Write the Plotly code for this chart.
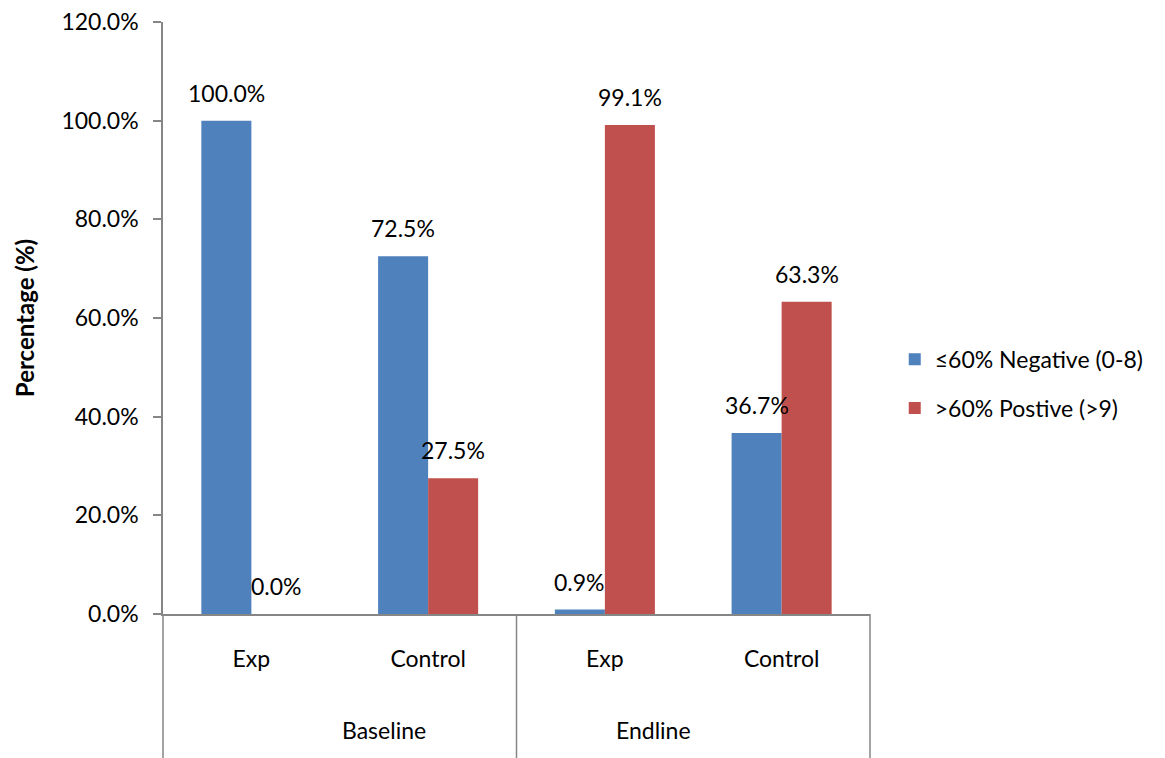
import plotly.graph_objects as go

# Survey results by phase and study arm
phases = ["Baseline", "Baseline", "Endline", "Endline"]
arms = ["Exp", "Control", "Exp", "Control"]
negative_pct = [100.0, 72.5, 0.9, 36.7]
positive_pct = [0.0, 27.5, 99.1, 63.3]

series_names = ["≤60% Negative (0-8)", ">60% Postive (>9)"]
series_colors = ["#4F81BD", "#C0504D"]
series_values = [negative_pct, positive_pct]

y_ticks = [0, 20, 40, 60, 80, 100, 120]

FONT = "Lato"
FSIZE = 23
AXIS_GRAY = "#868686"
BARGAP = 0.434

n = len(arms)
x_idx = list(range(n))

fig = go.Figure()
for name, color, vals in zip(series_names, series_colors, series_values):
    fig.add_trace(go.Bar(
        x=x_idx, y=vals, name=name, marker_color=color,
        marker_line_width=0, legendgroup=name,
    ))

# value labels above each bar, offset to the bar centre within the group
bar_w = (1 - BARGAP) / len(series_values)
annotations = []
for s, vals in enumerate(series_values):
    offset = (s - (len(series_values) - 1) / 2) * bar_w
    for i, v in enumerate(vals):
        annotations.append(dict(
            x=i + offset, y=v, xref="x", yref="y",
            text=f"{v:.1f}%", showarrow=False,
            yanchor="middle", yshift=28,
            font=dict(family=FONT, size=FSIZE, color="#000000"),
        ))

# phase labels centred under their categories, with dividers between phases
unique_phases = list(dict.fromkeys(phases))
boundaries = [-0.5]
for ph in unique_phases:
    members = [i for i, p in enumerate(phases) if p == ph]
    centre = sum(members) / len(members)
    annotations.append(dict(
        x=(centre + 0.5) / n, y=-0.196, xref="x domain", yref="paper",
        text=ph, showarrow=False, yanchor="middle",
        font=dict(family=FONT, size=FSIZE, color="#000000"),
    ))
    boundaries.append(members[-1] + 0.5)

shapes = []
for b in boundaries:
    xd = (b + 0.5) / n
    shapes.append(dict(
        type="line", xref="x domain", yref="paper",
        x0=xd, x1=xd, y0=0, y1=-0.25,
        line=dict(color=AXIS_GRAY, width=1.5),
    ))

fig.update_layout(
    width=1165, height=758,
    margin=dict(l=163, r=295, t=22, b=144),
    paper_bgcolor="white", plot_bgcolor="white",
    barmode="group", bargap=BARGAP, bargroupgap=0,
    font=dict(family=FONT, size=FSIZE, color="#000000"),
    showlegend=True,
    legend=dict(
        x=1.035, y=0.389, xanchor="left", yanchor="middle",
        traceorder="grouped", tracegroupgap=16,
        font=dict(family=FONT, size=FSIZE, color="#000000"),
        bgcolor="rgba(0,0,0,0)",
    ),
    annotations=annotations,
    shapes=shapes,
)

fig.update_xaxes(
    range=[-0.5, n - 0.5], automargin=False,
    tickmode="array", tickvals=x_idx, ticktext=arms,
    ticks="", showgrid=False, zeroline=False,
    showline=True, linecolor=AXIS_GRAY, linewidth=1.5,
    ticklabelstandoff=24,
    tickfont=dict(family=FONT, size=FSIZE, color="#000000"),
)

fig.update_yaxes(
    range=[0, 120], automargin=False,
    tickmode="array", tickvals=y_ticks,
    ticktext=[f"{t:.1f}%" for t in y_ticks],
    ticks="outside", ticklen=8, tickwidth=1.5, tickcolor=AXIS_GRAY,
    showgrid=False, zeroline=False,
    showline=True, linecolor=AXIS_GRAY, linewidth=1.5,
    ticklabelstandoff=10,
    tickfont=dict(family=FONT, size=FSIZE, color="#000000"),
    title=dict(text="<b>Percentage (%)</b>", standoff=20,
               font=dict(family=FONT, size=24, color="#000000")),
)

fig.write_html("out.html")
